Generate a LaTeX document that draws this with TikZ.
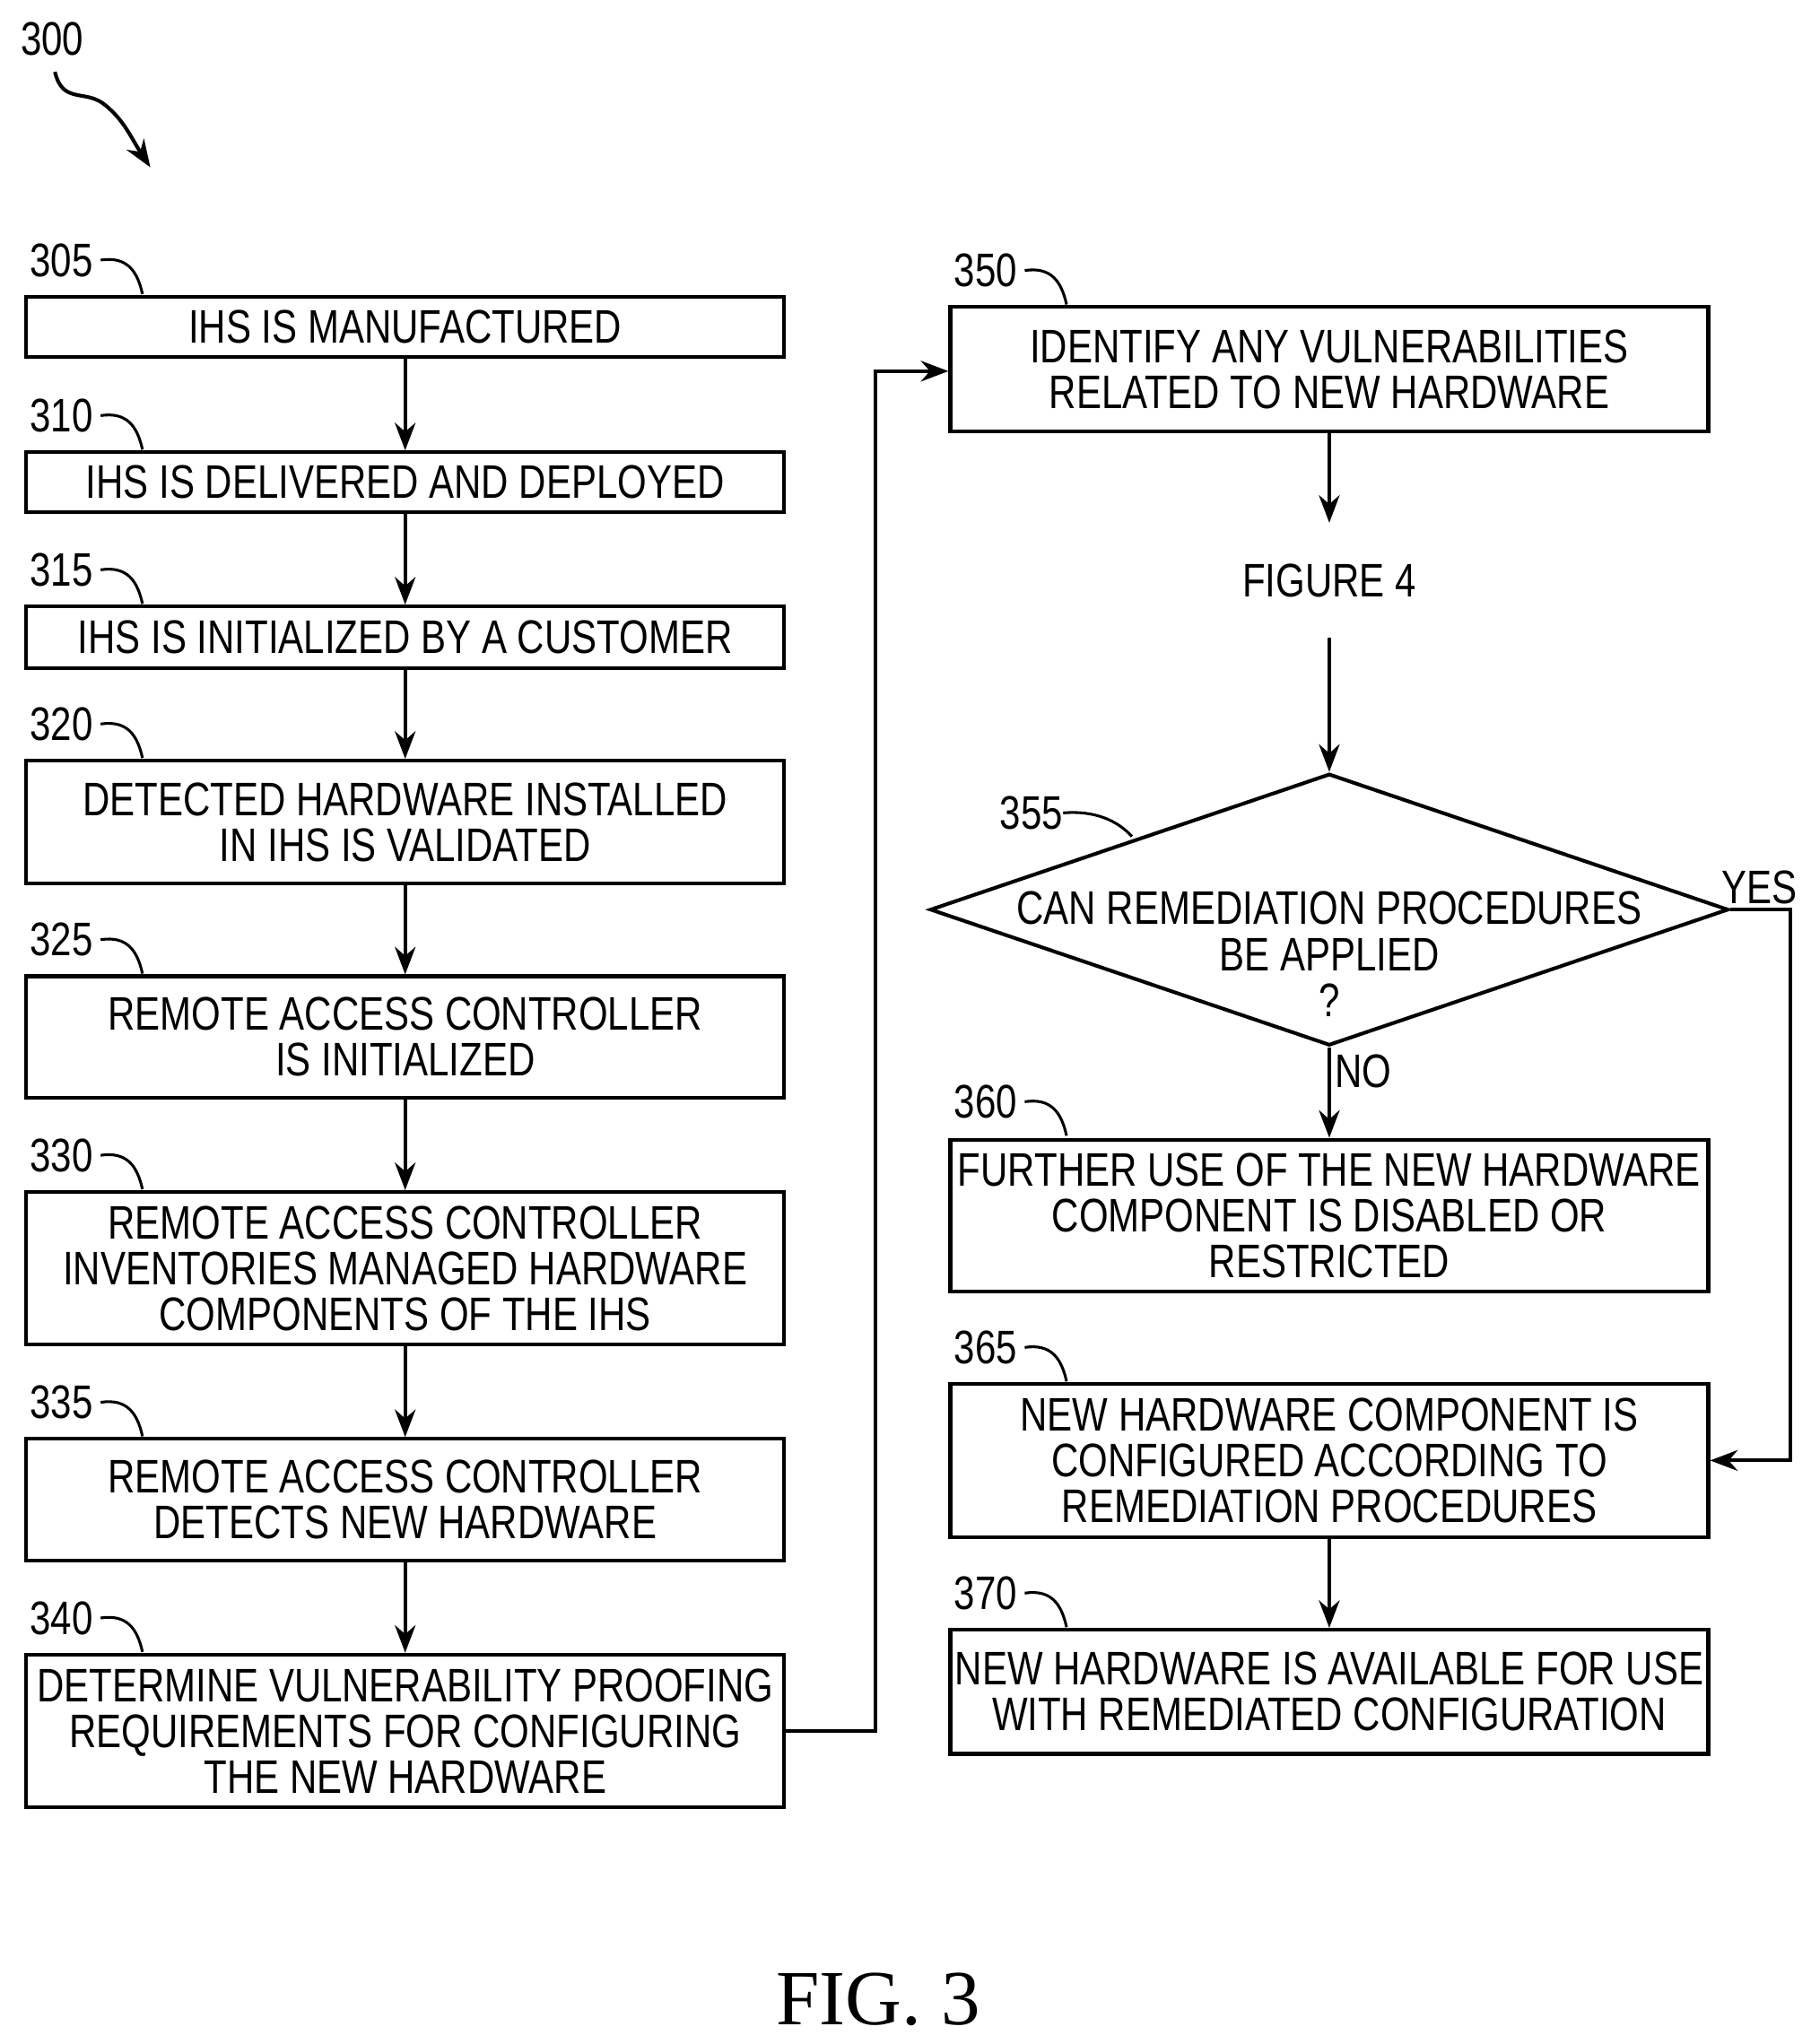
\documentclass[tikz,border=0pt]{standalone}
\usepackage{fontspec}
\setmainfont{Liberation Sans}[FakeStretch=0.8]
\newfontfamily\seriffig{Liberation Serif}
\usetikzlibrary{arrows.meta,shapes.geometric}
\begin{document}
\begin{tikzpicture}[x=0.02cm,y=-0.02cm,
  box/.style={draw,line width=1.6pt,minimum width=11.6cm,align=center,inner sep=0pt,font=\fontsize{20.5}{20}\selectfont},
  lab/.style={font=\fontsize{20.5}{20}\selectfont,inner sep=0pt},
  arr/.style={line width=1.6pt,-{Stealth[length=12pt,width=9pt]}},
  sq/.style={line width=1.2pt}]
\useasboundingbox (0,0) rectangle (1385,1564);
% left column
\node[box,minimum height=0.92cm] (b305) at (310,250) {IHS IS MANUFACTURED};
\node[box,minimum height=0.92cm] (b310) at (310,369) {IHS IS DELIVERED AND DEPLOYED};
\node[box,minimum height=0.94cm] (b315) at (310,487.5) {IHS IS INITIALIZED BY A CUSTOMER};
\node[box,minimum height=1.88cm] (b320) at (310,629) {DETECTED HARDWARE INSTALLED\\IN IHS IS VALIDATED};
\node[box,minimum height=1.86cm] (b325) at (310,793.5) {REMOTE ACCESS CONTROLLER\\IS INITIALIZED};
\node[box,minimum height=2.34cm] (b330) at (310,970.5) {REMOTE ACCESS CONTROLLER\\INVENTORIES MANAGED HARDWARE\\COMPONENTS OF THE IHS};
\node[box,minimum height=1.86cm] (b335) at (310,1147.5) {REMOTE ACCESS CONTROLLER\\DETECTS NEW HARDWARE};
\node[box,minimum height=2.34cm] (b340) at (310,1324.5) {DETERMINE VULNERABILITY PROOFING\\REQUIREMENTS FOR CONFIGURING\\THE NEW HARDWARE};
% right column
\node[box,minimum height=1.9cm] (b350) at (1017,282.5) {IDENTIFY ANY VULNERABILITIES\\RELATED TO NEW HARDWARE};
\node[lab] (fig4) at (1017,444) {FIGURE 4};
\node[draw,line width=1.6pt,diamond,aspect=2.94,minimum width=12.22cm,minimum height=4.16cm,inner sep=0pt] (d355) at (1017,696) {};
\node[lab,align=center] (dtext) at (1017,730) {CAN REMEDIATION PROCEDURES\\BE APPLIED\\?};
\node[box,minimum height=2.32cm] (b360) at (1017,930) {FURTHER USE OF THE NEW HARDWARE\\COMPONENT IS DISABLED OR\\RESTRICTED};
\node[box,minimum height=2.34cm] (b365) at (1017,1117.5) {NEW HARDWARE COMPONENT IS\\CONFIGURED ACCORDING TO\\REMEDIATION PROCEDURES};
\node[box,minimum height=1.9cm] (b370) at (1017,1294.5) {NEW HARDWARE IS AVAILABLE FOR USE\\WITH REMEDIATED CONFIGURATION};
% arrows
\draw[arr] (b305) -- (b310);
\draw[arr] (b310) -- (b315);
\draw[arr] (b315) -- (b320);
\draw[arr] (b320) -- (b325);
\draw[arr] (b325) -- (b330);
\draw[arr] (b330) -- (b335);
\draw[arr] (b335) -- (b340);
\draw[arr] (b340.east) -| (670,284) -- (b350.west |- 0,284);
\coordinate (f4top) at (1017,400);
\coordinate (f4bot) at (1017,488);
\draw[arr] (b350) -- (f4top);
\draw[arr] (f4bot) -- (d355.north);
\draw[arr] (d355.south) -- (b360);
\draw[arr] (d355.east) -- (1370,696) |- (b365.east);
\draw[arr] (b365) -- (b370);
\node[lab] (yes) at (1346,679) {YES};
\node[lab] (no) at (1043,820) {NO};
% labels
\foreach \n/\x/\y in {305/47/199,310/47/318,315/47/436,320/47/554,325/47/719,330/47/884,335/47/1073,340/47/1238,350/754/207,360/754/843,365/754/1031,370/754/1219}{
  \node[lab] (l\n) at (\x,\y) {\n};
  \draw[sq] (\x+30,\y) .. controls (\x+50,\y-3) and (\x+58,\y+8) .. (\x+62,\y+26);
}
\node[lab] (l355) at (789,622) {355};
\draw[sq] (l355.east) .. controls (838,620) and (855,628) .. (866,640);
\node[lab] (l300) at (40,30) {300};
\coordinate (a300) at (115,128);
\draw[line width=1.6pt,-{Stealth[length=12pt,width=9pt]}] (42,55) .. controls (48,80) and (65,68) .. (80,80) .. controls (95,92) and (100,105) .. (a300);
\node[font=\seriffig\fontsize{34}{34}\selectfont] (fig) at (672,1530) {FIG. 3};
\end{tikzpicture}
\end{document}
